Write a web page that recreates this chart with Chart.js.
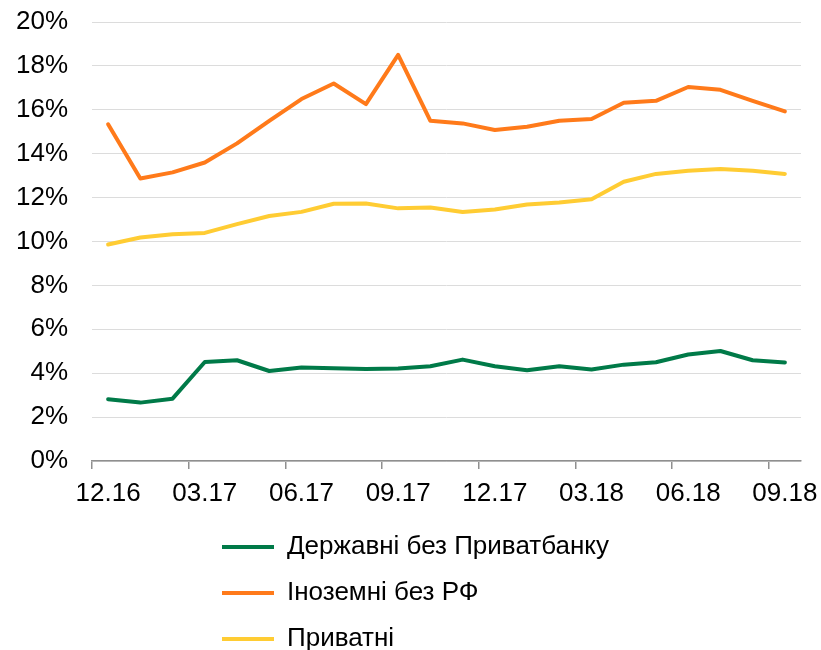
<!DOCTYPE html>
<html>
<head>
<meta charset="utf-8">
<script src="https://cdn.jsdelivr.net/npm/chart.js@4"></script>
<style>
  html, body { margin: 0; padding: 0; background: #fff; }
  canvas { display: block; }
</style>
</head>
<body>
<canvas id="c" width="821" height="650"></canvas>
<script>
const categories = ['12.16','01.17','02.17','03.17','04.17','05.17','06.17','07.17','08.17','09.17','10.17','11.17',
                    '12.17','01.18','02.18','03.18','04.18','05.18','06.18','07.18','08.18','09.18'];
const seriesNames = ['Державні без Приватбанку', 'Іноземні без РФ', 'Приватні'];
const stateBanks   = [2.81, 2.66, 2.84, 4.51, 4.59, 4.10, 4.26, 4.23, 4.19, 4.21, 4.32, 4.62,
                      4.32, 4.13, 4.32, 4.17, 4.39, 4.50, 4.85, 5.01, 4.59, 4.49];
const foreignBanks = [15.34, 12.87, 13.15, 13.60, 14.47, 15.50, 16.49, 17.20, 16.26, 18.50, 15.50, 15.38,
                      15.08, 15.23, 15.50, 15.58, 16.32, 16.41, 17.04, 16.91, 16.41, 15.93];
const privateBanks = [9.86, 10.18, 10.33, 10.39, 10.79, 11.16, 11.35, 11.72, 11.73, 11.51, 11.55, 11.34,
                      11.46, 11.69, 11.78, 11.92, 12.72, 13.08, 13.22, 13.30, 13.22, 13.08];
const yTicks = [0, 2, 4, 6, 8, 10, 12, 14, 16, 18, 20];

const colors = ['#007A48', '#FF7A1A', '#FFCC33'];
const FONT = "'Liberation Sans', Arial, sans-serif";
const FS = 26;
Chart.defaults.font.family = FONT;
Chart.defaults.font.size = FS;
Chart.defaults.color = '#000';

const legendPlacer = {
  id: 'legendPlacer',
  afterLayout(chart) {
    const lg = chart.legend;
    if (!lg) return;
    lg.left = 202;
    lg.right = 660;
    lg.top = 514;
  }
};

const mk = (label, data, color) => ({
  label, data,
  borderColor: color, backgroundColor: color,
  borderWidth: 4, pointRadius: 0, pointHoverRadius: 0,
  tension: 0, borderCapStyle: 'round', borderJoinStyle: 'round', fill: false
});

new Chart(document.getElementById('c'), {
  type: 'line',
  data: {
    labels: categories,
    datasets: [
      mk(seriesNames[0], stateBanks, colors[0]),
      mk(seriesNames[1], foreignBanks, colors[1]),
      mk(seriesNames[2], privateBanks, colors[2])
    ]
  },
  options: {
    responsive: false,
    animation: false,
    devicePixelRatio: 1,
    layout: { padding: { top: 22, right: 20, bottom: 0, left: 0 } },
    plugins: {
      tooltip: { enabled: false },
      legend: {
        position: 'bottom',
        align: 'start',
        labels: {
          usePointStyle: true,
          pointStyle: 'line',
          pointStyleWidth: 52,
          padding: 20,
          color: '#000',
          font: { size: FS, family: FONT }
        }
      }
    },
    scales: {
      x: {
        type: 'category',
        offset: true,
        afterFit(scale) { scale.height = 87; },
        grid: {
          offset: true,
          drawOnChartArea: false,
          drawTicks: true,
          tickLength: 8,
          lineWidth: 1.5,
          color: (ctx) => (ctx.index !== undefined && ctx.index % 3 === 0) ? '#8f8f8f' : 'rgba(0,0,0,0)'
        },
        border: { display: true, color: '#8f8f8f', width: 1.5 },
        ticks: {
          autoSkip: false,
          maxRotation: 0,
          padding: 0,
          color: '#000',
          font: { size: FS, family: FONT, lineHeight: 1.885 },
          callback: (v, i) => (i % 3 === 0 ? categories[i] : '')
        }
      },
      y: {
        min: yTicks[0],
        max: yTicks[yTicks.length - 1],
        afterFit(scale) { scale.width = 92; },
        afterBuildTicks(scale) { scale.ticks = yTicks.map(v => ({ value: v })); },
        grid: { color: '#dcdcdc', lineWidth: 1, drawTicks: true, tickLength: 24, tickColor: 'rgba(0,0,0,0)' },
        border: { display: false },
        ticks: {
          padding: 0,
          color: '#000',
          font: { size: FS, family: FONT },
          callback: (v) => v + '%'
        }
      }
    }
  },
  plugins: [legendPlacer]
});
</script>
</body>
</html>
